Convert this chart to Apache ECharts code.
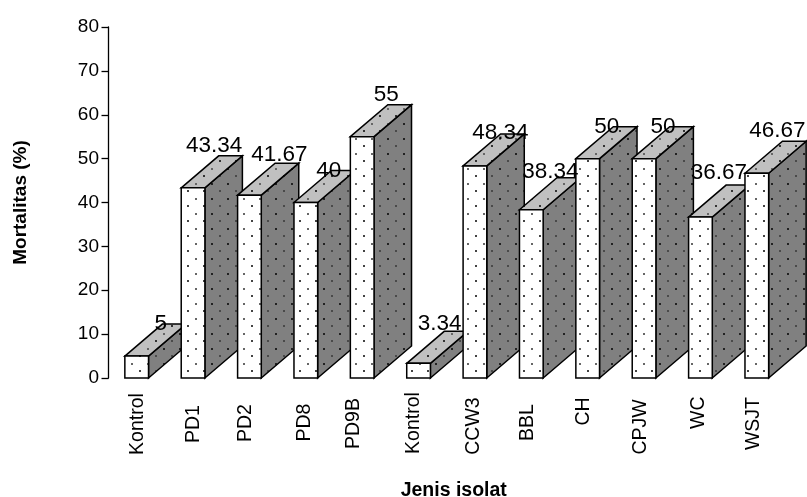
<!DOCTYPE html>
<html><head><meta charset="utf-8">
<script src="https://cdn.jsdelivr.net/npm/echarts@6/dist/echarts.min.js"></script>
<style>html,body{margin:0;padding:0;background:#fff}#c{width:807px;height:497px}</style>
</head><body><div id="c"></div>
<script>
const categories = ['Kontrol','PD1','PD2','PD8','PD9B','Kontrol','CCW3','BBL','CH','CPJW','WC','WSJT'];
const mortality = [5,43.34,41.67,40,55,3.34,48.34,38.34,50,50,36.67,46.67];
const valueLabels = ['5','43.34','41.67','40','55','3.34','48.34','38.34','50','50','36.67','46.67'];
const yTicks = {min:0,max:80,interval:10};
// label placement relative to each bar's front top-centre
const labelDx = [24,21,30,23,24,21,25.5,19,19,19,18.5,20.5];
const labelDy = [-32.5,-42.5,-40,-32,-42,-40,-33,-37.5,-32,-32,-44.5,-42];
// nudges of each category label (px): sideways (+ = right) and along the label (+ = up)
const catShift = [1.3,0.5,-4.1,-1.3,-8.7,-4.9,-1.4,-3.8,-3.7,-3.3,-1.4,-2.8];
const catLift = [0,0,1,1.5,0.5,1,-2,1.5,12.5,-3,11.3,0.5];
const FONT = '"Liberation Sans", Arial, sans-serif';
const catFont = 19.5;

function tile(bg, c1, c2){
  const s = 2, cv = document.createElement('canvas');
  cv.width = 16; cv.height = 15;
  const g = cv.getContext('2d');
  g.fillStyle = bg; g.fillRect(0,0,16,15);
  g.fillStyle = c1; g.fillRect(3,3,s,s);
  g.fillStyle = c2; g.fillRect(11,10,s,s);
  return {image:cv, repeat:'repeat'};
}
const fFront = tile('#ffffff','#666666','#444444');
const fTop = tile('#c0c0c0','#666666','#333333');
const fSide = tile('#808080','#222222','#4a4a4a');

const catRich = {};
catShift.forEach((s,i)=>{
  const u = catLift[i];
  catRich['s'+i] = {fontFamily:FONT,fontSize:catFont,color:'#000',
    padding:[s>0?2*s:0, u<0?-2*u:0, s<0?-2*s:0, u>0?2*u:0]};
});

const chart = echarts.init(document.getElementById('c'),null,{renderer:'canvas'});
chart.setOption({
  animation:false,
  backgroundColor:'#fff',
  textStyle:{fontFamily:FONT,color:'#000'},
  grid:{left:108.5,right:22,top:27,bottom:119,containLabel:false,outerBoundsMode:'none'},
  xAxis:{type:'category',data:categories,
    name:'{n|Jenis isolat}',nameLocation:'middle',nameGap:103,nameMoveOverlap:false,
    nameTextStyle:{fontFamily:FONT,fontWeight:'bold',fontSize:19.5,color:'#000',
      rich:{n:{fontFamily:FONT,fontWeight:'bold',fontSize:19.5,color:'#000',padding:[0,0,0,14]}}},
    axisLine:{show:false},axisTick:{show:false},
    axisLabel:{rotate:90,interval:0,margin:46,align:'center',verticalAlign:'middle',
      fontFamily:FONT,fontSize:catFont,color:'#000',rich:catRich,
      formatter:(v,i)=>'{s'+i+'|'+v+'}'}},
  yAxis:{type:'value',min:yTicks.min,max:yTicks.max,interval:yTicks.interval,
    name:'Mortalitas (%)',nameLocation:'middle',nameGap:78,nameMoveOverlap:false,
    nameTextStyle:{fontFamily:FONT,fontWeight:'bold',fontSize:19,color:'#000'},
    splitLine:{show:false},
    axisLine:{show:true,lineStyle:{color:'#000',width:1.3}},
    axisTick:{show:true,length:7,lineStyle:{color:'#000',width:1.3}},
    axisLabel:{margin:9.5,fontFamily:FONT,fontSize:19,color:'#000'}},
  series:[{
    type:'custom',clip:false,
    data:mortality.map((v,i)=>[i,v]),
    encode:{x:0,y:1},
    renderItem:function(params,api){
      const i = api.value(0), base = api.coord([i,0]), top = api.coord([i,api.value(1)]);
      const band = api.size([1,0])[0];
      const w = band*0.42, dx = band*0.665, dy = -32;
      const x0 = top[0]-w/2, x1 = top[0]+w/2, yT = top[1], yB = base[1];
      const stroke = {stroke:'#000',lineWidth:1.5,lineJoin:'miter'};
      const poly = (pts,fill)=>({type:'polygon',shape:{points:pts},style:Object.assign({fill},stroke)});
      return {type:'group',children:[
        poly([[x1,yB],[x1+dx,yB+dy],[x1+dx,yT+dy],[x1,yT]],fSide),
        poly([[x0,yT],[x0+dx,yT+dy],[x1+dx,yT+dy],[x1,yT]],fTop),
        poly([[x0,yT],[x1,yT],[x1,yB],[x0,yB]],fFront),
        {type:'text',x:top[0]+labelDx[i],y:top[1]+labelDy[i],z2:50,
         style:{text:valueLabels[i],fontFamily:FONT,fontSize:22.5,fill:'#000',align:'center',verticalAlign:'middle'}}
      ]};
    }
  }]
});
</script></body></html>
